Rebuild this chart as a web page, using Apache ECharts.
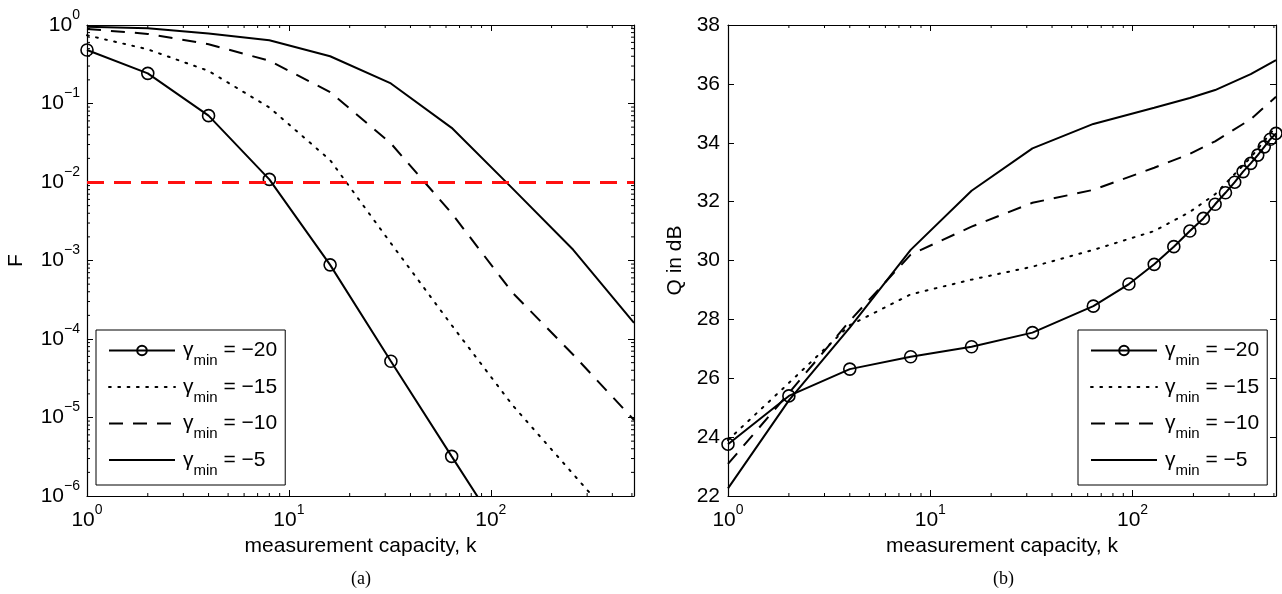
<!DOCTYPE html>
<html><head><meta charset="utf-8">
<script src="https://cdn.jsdelivr.net/npm/echarts@6/dist/echarts.min.js"></script>
<style>html,body{margin:0;padding:0;background:#fff}#c{width:1282px;height:594px}</style>
</head><body><div id="c"></div>
<script>
// ---------- Panel (a): F vs measurement capacity k (log-log) ----------
const kA = [1, 2, 4, 8, 16, 32, 64, 128, 256, 512];
const kA20 = [1, 2, 4, 8, 16, 32, 64, 128];
const fA20 = [0.48, 0.242, 0.07, 0.0108, 8.8e-4, 5.2e-5, 3.2e-6, 2e-7];
const fA15 = [0.74, 0.49, 0.26, 0.089, 0.019, 1.66e-3, 1.5e-4, 1.44e-5, 1.9e-6, 2.5e-7];
const fA10 = [0.89, 0.77, 0.57, 0.35, 0.14, 0.031, 0.004, 3.9e-4, 6.3e-5, 9.3e-6];
const fA5  = [0.95, 0.91, 0.78, 0.64, 0.40, 0.18, 0.049, 0.0083, 1.37e-3, 1.6e-4];
const threshold = 0.01;

// ---------- Panel (b): Q in dB vs k ----------
const kB20 = [1, 2, 4, 8, 16, 32, 64, 96, 128, 160, 192, 224, 256, 288, 320, 352, 384, 416, 448, 480, 512];
const qB20 = [23.76, 25.40, 26.31, 26.73, 27.07, 27.55, 28.45, 29.20, 29.87, 30.47, 31.0, 31.43, 31.91, 32.30, 32.66, 33.02, 33.30, 33.58, 33.86, 34.12, 34.32];
const kB = [1, 2, 4, 8, 16, 32, 64, 128, 192, 256, 384, 512];
const qB15 = [23.9, 25.84, 27.8, 28.85, 29.35, 29.79, 30.36, 31.0, 31.65, 32.25, 33.5, 34.55];
const qB10 = [23.09, 25.5, 27.95, 30.2, 31.15, 31.96, 32.4, 33.15, 33.62, 34.05, 34.8, 35.56];
const qB5  = [22.26, 25.25, 27.72, 30.36, 32.37, 33.81, 34.64, 35.19, 35.52, 35.79, 36.33, 36.81];

const seriesNames = ['g20', 'g15', 'g10', 'g5'];
const legendText = {g20: '\u221220', g15: '\u221215', g10: '\u221210', g5: '\u22125'};
const xAxisName = 'measurement capacity, k';
const yNameA = 'F';
const yNameB = 'Q in dB';
const captions = ['(a)', '(b)'];
const kMin = 1, kMax = 512;
const fMin = 1e-6, fMax = 1;
const qMin = 22, qMax = 38, qStep = 2;

const FONT = '"Liberation Sans", Arial, Helvetica, sans-serif';
const SERIF = '"Liberation Serif", "Times New Roman", serif';

function pair(xs, ys) { return xs.map((x, i) => [x, ys[i]]); }

function powLabel(v) {
  const e = Math.log10(v);
  const r = Math.round(e);
  if (Math.abs(e - r) > 1e-6) return '';
  return '{b|10}{s|' + (r < 0 ? '\u2212' + (-r) : String(r)) + '}';
}
const powRich = {
  b: {fontSize: 21, lineHeight: 34, fontFamily: FONT, color: '#000'},
  s: {fontSize: 14, lineHeight: 14, verticalAlign: 'top', fontFamily: FONT, color: '#000'}
};

function logXAxis(grid, pos, show) {
  return {
    type: 'log', logBase: 10, gridIndex: grid, position: pos, min: kMin, max: kMax, splitNumber: 3,
    name: show ? xAxisName : '', nameLocation: 'middle', nameGap: 38,
    nameTextStyle: {fontSize: 21, fontFamily: FONT, color: '#000'},
    axisLine: {show: true, onZero: false, lineStyle: {color: '#000', width: 1.2}},
    axisTick: {show: true, inside: true, length: 6, lineStyle: {color: '#000', width: 1}},
    axisLabel: {show: show, margin: 7, formatter: powLabel, rich: powRich, showMaxLabel: false},
    splitLine: {show: false}
  };
}
function yAxisA(pos, show) {
  return {
    type: 'log', logBase: 10, gridIndex: 0, position: pos, min: fMin, max: fMax, splitNumber: 6,
    name: show ? yNameA : '', nameLocation: 'middle', nameGap: 60,
    nameTextStyle: {fontSize: 21, fontFamily: FONT, color: '#000'},
    axisLine: {show: true, onZero: false, lineStyle: {color: '#000', width: 1.2}},
    axisTick: {show: true, inside: true, length: 6, lineStyle: {color: '#000', width: 1}},
    axisLabel: {show: show, margin: 7, formatter: powLabel, rich: powRich},
    splitLine: {show: false}
  };
}
function yAxisB(pos, show) {
  return {
    type: 'value', gridIndex: 1, position: pos, min: qMin, max: qMax, interval: qStep,
    name: show ? yNameB : '', nameLocation: 'middle', nameGap: 42,
    nameTextStyle: {fontSize: 21, fontFamily: FONT, color: '#000'},
    axisLine: {show: true, onZero: false, lineStyle: {color: '#000', width: 1.2}},
    axisTick: {show: true, inside: true, length: 6, lineStyle: {color: '#000', width: 1}},
    axisLabel: {show: show, margin: 8, fontSize: 21, fontFamily: FONT, color: '#000'},
    splitLine: {show: false}
  };
}

const LW = 2;
const styles = {
  g20: {symbol: 'circle', symbolSize: 12, showSymbol: true,
        itemStyle: {color: 'rgba(0,0,0,0)', borderColor: '#000', borderWidth: 1.6},
        lineStyle: {color: '#000', width: LW, type: 'solid'}},
  g15: {symbol: 'none', itemStyle: {color: '#000'}, lineStyle: {color: '#000', width: LW, type: [1.8, 7.5], cap: 'round'}},
  g10: {symbol: 'none', itemStyle: {color: '#000'}, lineStyle: {color: '#000', width: LW, type: [14, 10]}},
  g5:  {symbol: 'none', itemStyle: {color: '#000'}, lineStyle: {color: '#000', width: LW, type: 'solid'}}
};

function mkSeries(name, grid, data, extra) {
  return Object.assign({
    type: 'line', name: name, xAxisIndex: grid * 2, yAxisIndex: grid * 2, data: data,
    clip: true, animation: false, emphasis: {disabled: true}, z: 3
  }, styles[name], extra || {});
}

const series = [
  mkSeries('g20', 0, pair(kA20, fA20)),
  mkSeries('g15', 0, pair(kA, fA15)),
  mkSeries('g10', 0, pair(kA, fA10)),
  mkSeries('g5', 0, pair(kA, fA5), {
    markLine: {symbol: 'none', silent: true, animation: false, label: {show: false},
      lineStyle: {color: '#ff1010', width: 2.8, type: [17, 10]},
      emphasis: {disabled: true}, data: [{yAxis: threshold}]}
  }),
  mkSeries('g20', 1, pair(kB20, qB20)),
  mkSeries('g15', 1, pair(kB, qB15)),
  mkSeries('g10', 1, pair(kB, qB10)),
  mkSeries('g5', 1, pair(kB, qB5))
];

const hiddenSymbol = {color: 'rgba(0,0,0,0)', borderColor: 'rgba(0,0,0,0)', borderWidth: 0, opacity: 0};
function legendOf(left) {
  return {
    data: seriesNames.map(n => n === 'g20' ? {name: n} : {name: n, itemStyle: hiddenSymbol}),
    orient: 'vertical', left: left, top: 330,
    itemWidth: 66, itemHeight: 12, itemGap: 8, padding: [10, 8, 7, 12],
    borderColor: '#000', borderWidth: 1, borderRadius: 0, backgroundColor: '#fff',
    selectedMode: false, z: 10,
    formatter: n => '{g|\u03b3}{s|min}{t| = ' + legendText[n] + '}',
    textStyle: {
      color: '#000', fontFamily: FONT,
      rich: {
        g: {fontSize: 21, lineHeight: 36, fontFamily: FONT, color: '#000', padding: [0, 0, 0, 3]},
        s: {fontSize: 15, lineHeight: 16, verticalAlign: 'bottom', fontFamily: FONT, color: '#000'},
        t: {fontSize: 21, lineHeight: 36, fontFamily: FONT, color: '#000'}
      }
    }
  };
}

const option = {
  animation: false,
  backgroundColor: '#fff',
  title: [
    {text: captions[0], left: 351, top: 570, padding: 0, textStyle: {fontFamily: SERIF, fontSize: 18, fontWeight: 'normal', color: '#000'}},
    {text: captions[1], left: 993, top: 570, padding: 0, textStyle: {fontFamily: SERIF, fontSize: 18, fontWeight: 'normal', color: '#000'}}
  ],
  grid: [
    {left: 87, top: 25, width: 547, height: 471, containLabel: false, outerBoundsMode: 'none'},
    {left: 728, top: 25, width: 548, height: 471, containLabel: false, outerBoundsMode: 'none'}
  ],
  xAxis: [logXAxis(0, 'bottom', true), logXAxis(0, 'top', false), logXAxis(1, 'bottom', true), logXAxis(1, 'top', false)],
  yAxis: [yAxisA('left', true), yAxisA('right', false), yAxisB('left', true), yAxisB('right', false)],
  legend: [legendOf(96), legendOf(1078)],
  series: series
};

const chart = echarts.init(document.getElementById('c'), null, {renderer: 'canvas'});
chart.setOption(option);

// minor ticks for log axes, positioned through the chart's own scales
function minorLogValues(lo, hi) {
  const out = [];
  for (let e = Math.floor(Math.log10(lo)); e <= Math.ceil(Math.log10(hi)); e++) {
    for (let m = 2; m <= 9; m++) {
      const v = m * Math.pow(10, e);
      if (v > lo && v < hi) out.push(v);
    }
  }
  return out;
}
const L = 3;
const g = [];
function seg(x1, y1, x2, y2) {
  g.push({type: 'line', silent: true, z: 5, shape: {x1, y1, x2, y2}, style: {stroke: '#000', lineWidth: 1}});
}
[0, 1].forEach(gi => {
  const xi = gi * 2, yi = gi * 2;
  const yMinV = gi === 0 ? fMin : qMin, yMaxV = gi === 0 ? fMax : qMax;
  const yb = chart.convertToPixel({yAxisIndex: yi}, yMinV);
  const yt = chart.convertToPixel({yAxisIndex: yi}, yMaxV);
  const xl = chart.convertToPixel({xAxisIndex: xi}, kMin);
  const xr = chart.convertToPixel({xAxisIndex: xi}, kMax);
  minorLogValues(kMin, kMax).forEach(v => {
    const x = chart.convertToPixel({xAxisIndex: xi}, v);
    seg(x, yb, x, yb - L);
    seg(x, yt, x, yt + L);
  });
  if (gi === 0) {
    minorLogValues(fMin, fMax).forEach(v => {
      const y = chart.convertToPixel({yAxisIndex: yi}, v);
      seg(xl, y, xl + L, y);
      seg(xr, y, xr - L, y);
    });
  }
});
chart.setOption({graphic: g});
</script>
</body></html>
